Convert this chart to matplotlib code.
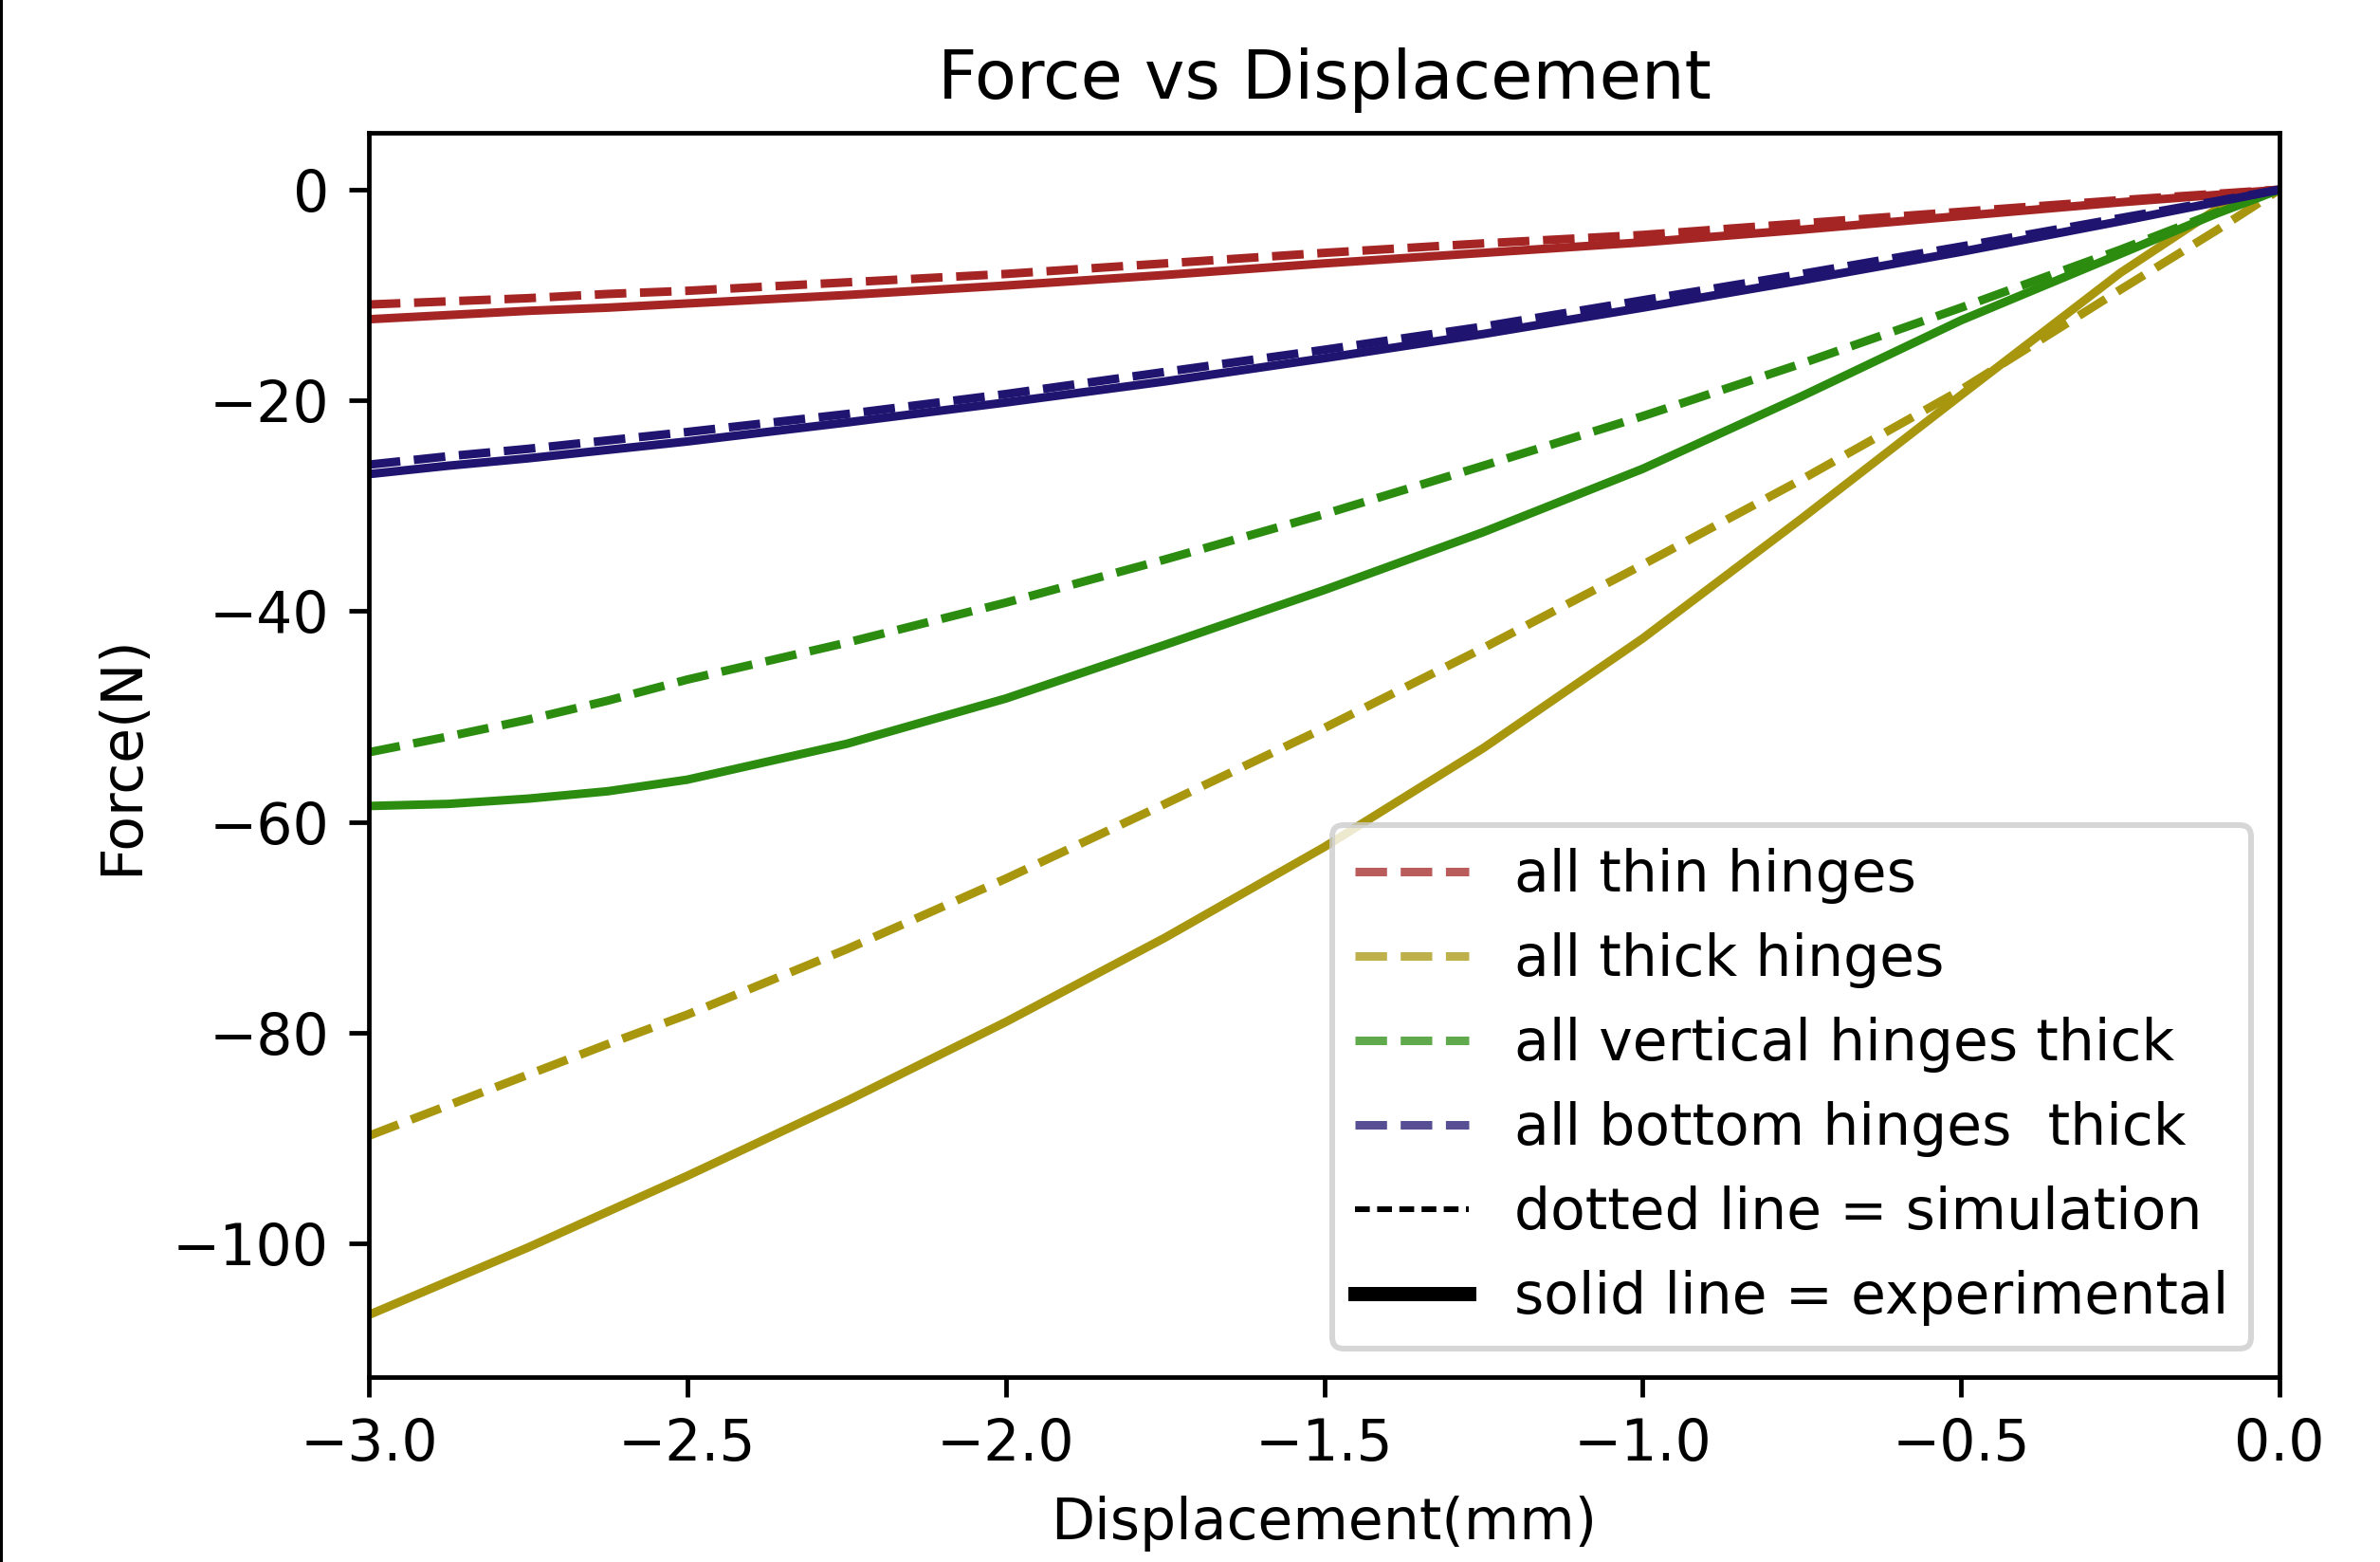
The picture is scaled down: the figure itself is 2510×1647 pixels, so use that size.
"""Force vs displacement: simulation (dashed) vs experiment (solid) for hinge configurations."""
import matplotlib

matplotlib.use("Agg")
import matplotlib.pyplot as plt
from matplotlib.lines import Line2D

# displacement grid (mm) the curves were read at
disp = [-3.0, -2.875, -2.75, -2.625, -2.5, -2.25, -2.0, -1.75, -1.5, -1.25,
        -1.0, -0.75, -0.5, -0.25, -0.1, 0.0]

# force (N), simulation = dashed, experimental = solid
thin_sim = [-10.9, -10.6, -10.3, -9.9, -9.6, -8.8, -8.0, -7.0, -6.0, -5.1,
            -4.3, -3.2, -2.1, -1.0, -0.4, 0.0]
thin_exp = [-12.3, -11.9, -11.5, -11.2, -10.8, -10.0, -9.1, -8.1, -7.0, -6.0,
            -5.0, -3.8, -2.5, -1.2, -0.5, 0.0]
thick_sim = [-89.8, -86.9, -84.0, -81.1, -78.3, -72.1, -65.4, -58.3, -51.1, -43.5,
             -35.6, -27.5, -19.0, -9.5, -3.9, 0.0]
thick_exp = [-106.8, -103.6, -100.4, -97.0, -93.6, -86.5, -79.0, -71.0, -62.4, -53.0,
             -42.6, -31.2, -19.5, -7.9, -1.9, 0.0]
vert_sim = [-53.4, -51.9, -50.3, -48.5, -46.5, -43.0, -39.2, -35.1, -30.8, -26.2,
            -21.5, -16.5, -11.2, -5.7, -2.2, 0.0]
vert_exp = [-58.5, -58.3, -57.8, -57.1, -56.0, -52.6, -48.3, -43.2, -38.0, -32.5,
            -26.5, -19.6, -12.4, -6.1, -2.3, 0.0]
bottom_sim = [-26.1, -25.3, -24.6, -23.8, -23.0, -21.3, -19.4, -17.3, -15.2, -13.0,
              -10.5, -8.0, -5.4, -2.7, -1.1, 0.0]
bottom_exp = [-27.0, -26.2, -25.5, -24.7, -23.9, -22.1, -20.2, -18.2, -16.0, -13.7,
              -11.2, -8.6, -5.9, -3.0, -1.2, 0.0]

labels = ["all thin hinges", "all thick hinges", "all vertical hinges thick",
          "all bottom hinges  thick"]
colors = ["#a52525", "#a8960f", "#2b8c10", "#1f1470"]
sim = [thin_sim, thick_sim, vert_sim, bottom_sim]
exp = [thin_exp, thick_exp, vert_exp, bottom_exp]

fig = plt.figure(figsize=(2510 / 432, 1647 / 432), dpi=432)
ax = fig.add_axes([0.15498, 0.1184, 0.80279, 0.7966])

for s, e, c in zip(sim, exp, colors):
    ax.plot(disp, s, "--", color=c, lw=1.5)
    ax.plot(disp, e, "-", color=c, lw=1.5)

ax.set_xlim(-3.0, 0.0)
ax.set_ylim(-112.7, 5.4)
ax.set_title("Force vs Displacement")
ax.set_xlabel("Displacement(mm)")
ax.set_ylabel("Force(N)")

handles = [Line2D([0], [0], color=c, ls="--", lw=1.5, alpha=0.75) for c in colors]
handles.append(Line2D([0], [0], color="k", ls=(0, (2.6, 1.3)), lw=1.0))
handles.append(Line2D([0], [0], color="k", ls="-", lw=2.5))
ax.legend(handles, labels + ["dotted line = simulation", "solid line = experimental"],
          loc="lower right")

# black edge on the left side of the original screenshot
fig.add_artist(Line2D([0, 0], [0, 1], transform=fig.transFigure, color="k", lw=1.0,
                      clip_on=False))

fig.savefig("out.png", dpi=432)
